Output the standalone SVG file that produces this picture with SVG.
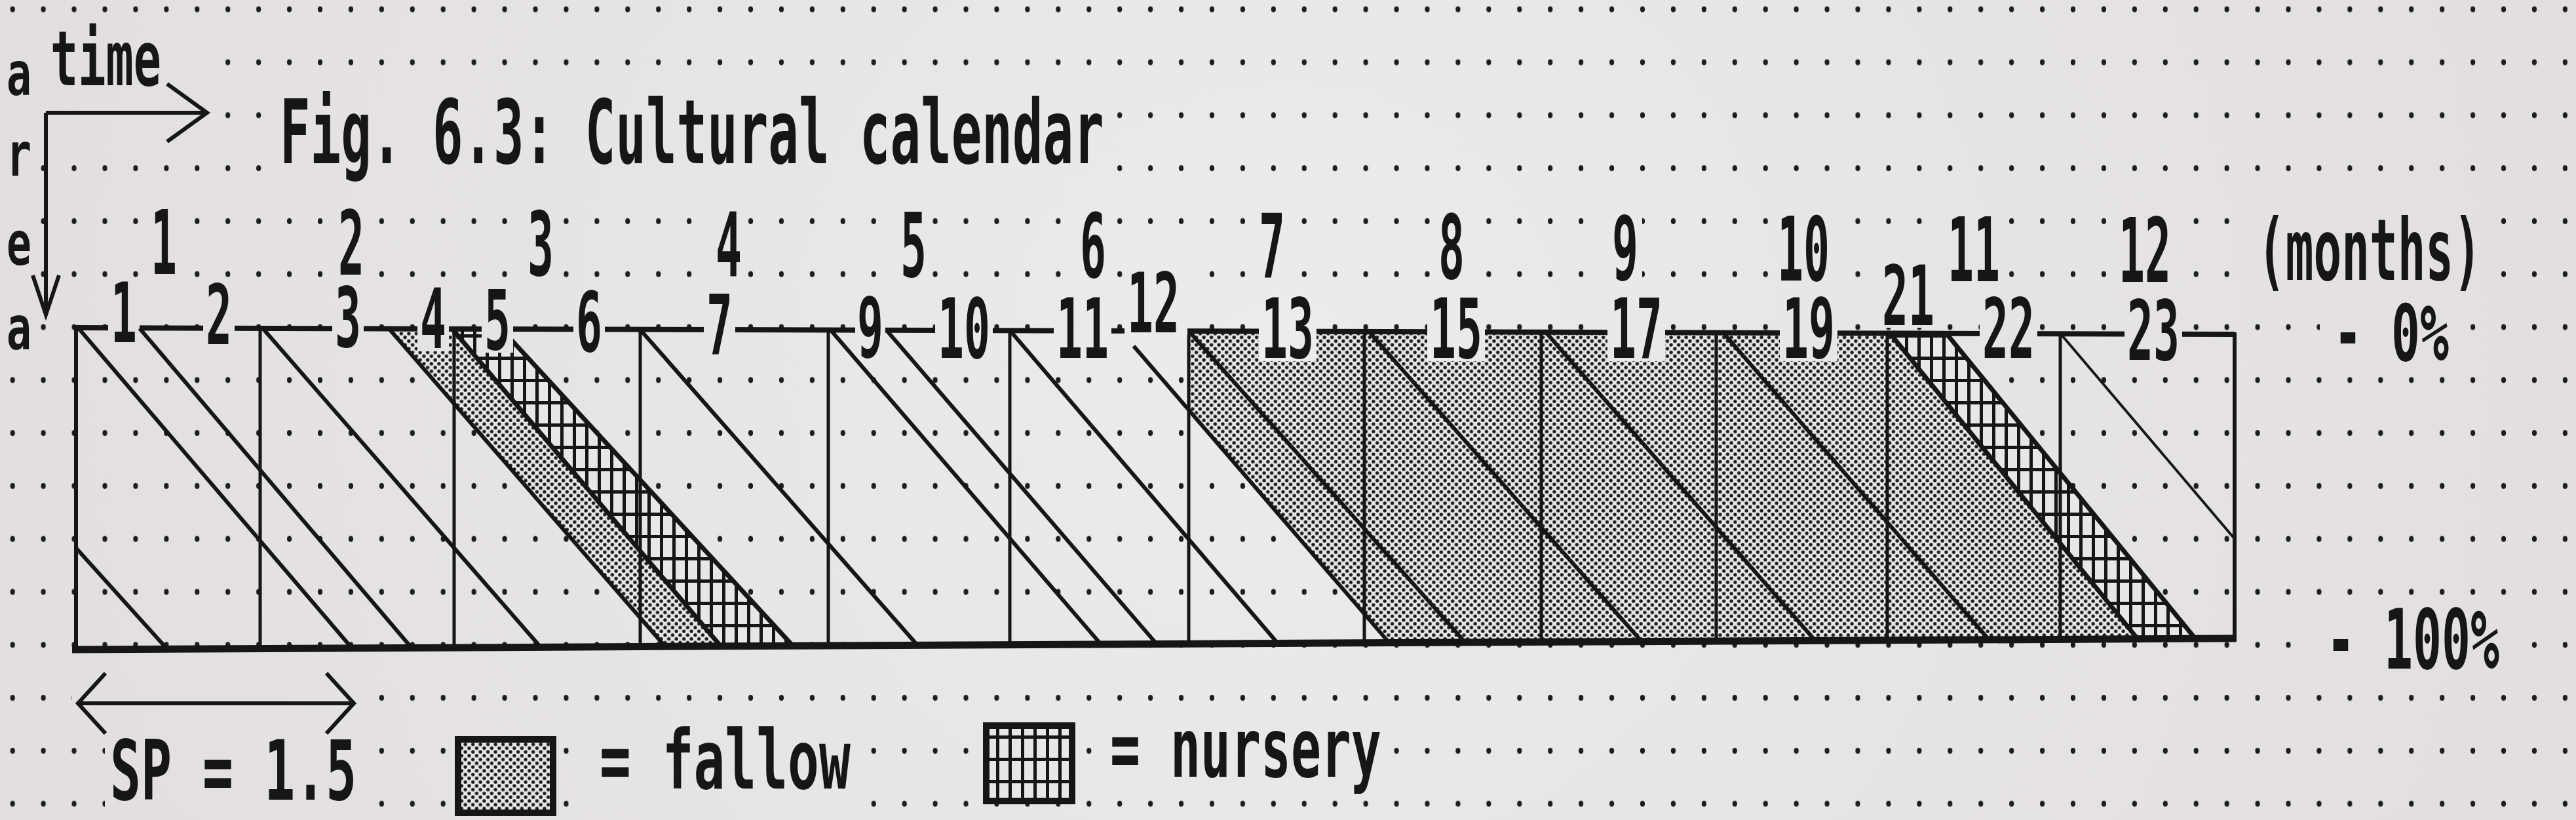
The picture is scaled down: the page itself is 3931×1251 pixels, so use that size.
<svg xmlns="http://www.w3.org/2000/svg" width="3931" height="1251" viewBox="0 0 3931 1251">
<defs>
<style>
text { font-family: "DejaVu Sans Mono", "Liberation Mono", monospace; font-weight: bold; fill: #161616; }
.bg { fill: url(#paper); }
.ln { stroke: #161616; fill: none; stroke-width: 6; }
.dv { stroke: #161616; stroke-width: 5; }
.m { font-size: 136px; }
.l { font-size: 126px; }
</style>
<radialGradient id="paper" gradientUnits="userSpaceOnUse" cx="1965" cy="560" r="2300">
<stop offset="0" stop-color="#edeceb"/>
<stop offset="1" stop-color="#e0dddc"/>
</radialGradient>
<pattern id="grid" patternUnits="userSpaceOnUse" x="136.53" y="458.6" width="46.93" height="80.8">
<ellipse cx="23.47" cy="40.4" rx="3.6" ry="4.4" fill="#1c1c1c"/>
</pattern>
<pattern id="stip" patternUnits="userSpaceOnUse" width="11.5" height="11.5">
<rect width="11.5" height="11.5" fill="#e9e7e6"/>
<circle cx="2.9" cy="2.9" r="2.7" fill="#1a1a1a"/>
<circle cx="8.65" cy="8.65" r="2.7" fill="#1a1a1a"/>
</pattern>
<pattern id="hatch" patternUnits="userSpaceOnUse" width="19" height="34">
<rect width="19" height="34" fill="#e9e7e6"/>
<rect x="0" y="0" width="5" height="34" fill="#161616"/>
<rect x="0" y="0" width="19" height="5" fill="#161616"/>
</pattern>
</defs>

<rect width="3931" height="1251" fill="url(#paper)"/>
<rect width="3931" height="1251" fill="url(#grid)"/>

<g id="masks" class="bg">
<rect x="0" y="60" width="330" height="155"/>
<rect x="0" y="215" width="52" height="330"/>
<rect x="70" y="20" width="184" height="120"/>
<rect x="418" y="140" width="1276" height="145"/>
<rect x="3436" y="318" width="360" height="125"/>
<rect x="3540" y="455" width="205" height="105"/>
<rect x="3530" y="920" width="295" height="110"/>
<rect x="110" y="1020" width="442" height="106"/>
<rect x="160" y="1120" width="395" height="128"/>
<rect x="905" y="1100" width="405" height="135"/>
<rect x="1684" y="1100" width="434" height="115"/>
</g>

<g id="axes">
<text transform="translate(77,130) scale(0.61,1)" font-size="115">time</text>
<path class="ln" d="M70 172 H316 M255 128 L316 172 L255 216"/>
<path class="ln" d="M70 172 V478 M50 420 L70 480 L90 420"/>
<text transform="translate(10,145) scale(0.686,1)" font-size="92">a</text>
<text transform="translate(10,268) scale(0.686,1)" font-size="92">r</text>
<text transform="translate(10,404) scale(0.686,1)" font-size="92">e</text>
<text transform="translate(10,533) scale(0.686,1)" font-size="92">a</text>
</g>

<g id="title">
<text transform="translate(427,249) scale(0.569,1)" font-size="136">Fig. 6.3: Cultural calendar</text>
</g>

<g id="months">
<g class="bg">
<rect x="224" y="312" width="52" height="114"/>
<rect x="510" y="313" width="52" height="114"/>
<rect x="799" y="314" width="52" height="114"/>
<rect x="1086" y="315" width="52" height="114"/>
<rect x="1368" y="316" width="52" height="114"/>
<rect x="1642" y="317" width="52" height="114"/>
<rect x="1915" y="318" width="52" height="114"/>
<rect x="2189" y="319" width="52" height="114"/>
<rect x="2454" y="320" width="52" height="114"/>
<rect x="2706" y="322" width="92" height="114"/>
<rect x="2966" y="323" width="92" height="114"/>
<rect x="3227" y="324" width="92" height="114"/>
</g>
<text class="m" transform="translate(230,418) scale(0.4886,1)">1</text>
<text class="m" transform="translate(516,419) scale(0.4886,1)">2</text>
<text class="m" transform="translate(805,420) scale(0.4886,1)">3</text>
<text class="m" transform="translate(1092,421) scale(0.4886,1)">4</text>
<text class="m" transform="translate(1374,422) scale(0.4886,1)">5</text>
<text class="m" transform="translate(1648,423) scale(0.4886,1)">6</text>
<text class="m" transform="translate(1921,424) scale(0.4886,1)">7</text>
<text class="m" transform="translate(2195,425) scale(0.4886,1)">8</text>
<text class="m" transform="translate(2460,426) scale(0.4886,1)">9</text>
<text class="m" transform="translate(2712,428) scale(0.4886,1)">10</text>
<text class="m" transform="translate(2972,429) scale(0.4886,1)">11</text>
<text class="m" transform="translate(3233,430) scale(0.4886,1)">12</text>
<text transform="translate(3445,427) scale(0.546,1)" font-size="130">(months)</text>
</g>

<g id="chart">
<polygon id="fallow-1" points="594,501.4 690,501.7 1100,985.9 1015,986.3" fill="url(#stip)"/>
<polygon id="fallow-2" points="1814,505.1 2884,508.3 3262,974.6 2120,980.6 1814,625.5" fill="url(#stip)"/>
<polygon id="nursery-1" points="690,501.7 765,501.9 1210,985.3 1100,985.9" fill="url(#hatch)" stroke="#161616" stroke-width="7"/>
<polygon id="nursery-2" points="2884,508.3 2970,508.6 3350,974.2 3262,974.6" fill="url(#hatch)" stroke="#161616" stroke-width="7"/>
<g id="dividers">
<line class="dv" x1="397" y1="500.8" x2="397" y2="989.5"/>
<line class="dv" x1="693" y1="501.7" x2="693" y2="988"/>
<line class="dv" x1="977" y1="502.6" x2="977" y2="986.5"/>
<line class="dv" x1="1264" y1="503.4" x2="1264" y2="985"/>
<line class="dv" x1="1541" y1="504.3" x2="1541" y2="983.6"/>
<line class="dv" x1="1814" y1="505.1" x2="1814" y2="982.2"/>
<line class="dv" x1="2082" y1="505.9" x2="2082" y2="980.8"/>
<line class="dv" x1="2352" y1="506.7" x2="2352" y2="979.4"/>
<line class="dv" x1="2619" y1="507.5" x2="2619" y2="978"/>
<line class="dv" x1="2880" y1="508.3" x2="2880" y2="976.6"/>
<line class="dv" x1="3144" y1="509.1" x2="3144" y2="975.3"/>
</g>
<g id="frame">
<line x1="116" y1="500" x2="3410" y2="510" stroke="#161616" stroke-width="8"/>
<line x1="110" y1="991" x2="3413" y2="974" stroke="#161616" stroke-width="11"/>
<line x1="116" y1="497" x2="116" y2="991" stroke="#161616" stroke-width="6"/>
<line x1="3410" y1="507" x2="3410" y2="974" stroke="#161616" stroke-width="6"/>
</g>
<g id="label-gaps" class="bg">
<rect x="165" y="424" width="48" height="103"/>
<rect x="310" y="427" width="48" height="103"/>
<rect x="507" y="431" width="48" height="103"/>
<rect x="637" y="433" width="48" height="103"/>
<rect x="735" y="435" width="48" height="103"/>
<rect x="875" y="438" width="48" height="103"/>
<rect x="1074" y="442" width="48" height="103"/>
<rect x="1305" y="447" width="46" height="103"/>
<rect x="1427" y="448" width="88" height="103"/>
<rect x="1608" y="448" width="88" height="103"/>
<rect x="1716" y="409" width="96" height="103"/>
<rect x="1921" y="448" width="88" height="103"/>
<rect x="2178" y="448" width="88" height="103"/>
<rect x="2453" y="448" width="88" height="103"/>
<rect x="2716" y="448" width="88" height="103"/>
<rect x="2868" y="398" width="88" height="102"/>
<rect x="3021" y="448" width="88" height="103"/>
<rect x="3242" y="451" width="88" height="103"/>
</g>
<g id="planting-labels">
<text class="l" transform="translate(169,522) scale(0.527,1)">1</text>
<text class="l" transform="translate(314,525) scale(0.527,1)">2</text>
<text class="l" transform="translate(511,529) scale(0.527,1)">3</text>
<text class="l" transform="translate(641,531) scale(0.527,1)">4</text>
<text class="l" transform="translate(739,533) scale(0.527,1)">5</text>
<text class="l" transform="translate(879,536) scale(0.527,1)">6</text>
<text class="l" transform="translate(1078,540) scale(0.527,1)">7</text>
<text class="l" transform="translate(1308,545) scale(0.527,1)">9</text>
<text class="l" transform="translate(1431,546) scale(0.527,1)">10</text>
<text class="l" transform="translate(1612,546) scale(0.527,1)">11</text>
<text class="l" transform="translate(1720,507) scale(0.527,1)">12</text>
<text class="l" transform="translate(1925,546) scale(0.527,1)">13</text>
<text class="l" transform="translate(2182,546) scale(0.527,1)">15</text>
<text class="l" transform="translate(2457,546) scale(0.527,1)">17</text>
<text class="l" transform="translate(2720,546) scale(0.527,1)">19</text>
<text class="l" transform="translate(2872,496) scale(0.527,1)">21</text>
<text class="l" transform="translate(3025,546) scale(0.527,1)">22</text>
<text class="l" transform="translate(3246,549) scale(0.527,1)">23</text>
</g>
<g id="connectors" class="ln">
<line x1="120" y1="501" x2="537" y2="988.8"/>
<line x1="213" y1="501" x2="628" y2="988.3"/>
<line x1="401" y1="501" x2="825" y2="987.3"/>
<line x1="594" y1="502" x2="1015" y2="986.3"/>
<line x1="977" y1="503" x2="1400" y2="984.3"/>
<line x1="1268" y1="504" x2="1680" y2="982.9"/>
<line x1="1353" y1="504" x2="1765" y2="982.4"/>
<line x1="1541" y1="504" x2="1950" y2="981.5"/>
<line x1="1730" y1="528" x2="2120" y2="980.6"/>
<line x1="1814" y1="505" x2="2236" y2="980"/>
<line x1="2089" y1="506" x2="2505" y2="978.6"/>
<line x1="2359" y1="507" x2="2770" y2="977.2"/>
<line x1="2630" y1="508" x2="3035" y2="975.8"/>
<line x1="3146" y1="511" x2="3410" y2="822" stroke-width="4"/>
<line x1="116" y1="836" x2="255" y2="990"/>
</g>
</g>

<g id="scale">
<text transform="translate(3561,550) scale(0.609,1)" font-size="120">- 0%</text>
<text transform="translate(3550,1020) scale(0.58,1)" font-size="126">- 100%</text>
</g>

<g id="legend">
<path class="ln" stroke-width="7" d="M119 1073 H540 M161 1027 L119 1073 L161 1119 M498 1027 L540 1073 L498 1119"/>
<text transform="translate(168,1220) scale(0.62,1)" font-size="126">SP = 1.5</text>
<rect x="699" y="1128" width="145" height="112" fill="url(#stip)" stroke="#161616" stroke-width="10"/>
<text transform="translate(915,1203) scale(0.641,1)" font-size="124">= fallow</text>
<rect x="1505" y="1107" width="131" height="115" fill="url(#hatch)" stroke="#161616" stroke-width="10"/>
<text transform="translate(1694,1185) scale(0.616,1)" font-size="124">= nursery</text>
</g>
</svg>
